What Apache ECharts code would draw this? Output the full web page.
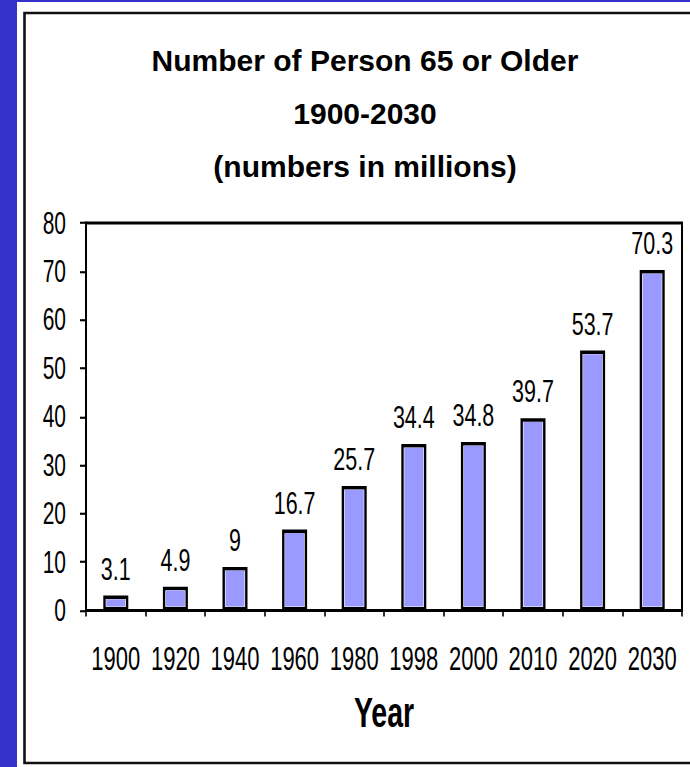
<!DOCTYPE html>
<html>
<head>
<meta charset="utf-8">
<script src="https://cdn.jsdelivr.net/npm/echarts@6/dist/echarts.min.js"></script>
<style>
  html, body { margin: 0; padding: 0; width: 690px; height: 767px; overflow: hidden; }
  #frame { position: absolute; left: 0; top: 0; width: 690px; height: 767px; }
  /* the plot is laid out in a shorter box and stretched vertically for tall, narrow lettering */
  #plot { position: absolute; left: 0; top: 0; width: 690px; height: 511.33px;
          transform: scaleY(1.5); transform-origin: 0 0; }
</style>
</head>
<body>
<div id="frame"></div>
<div id="plot"></div>
<script>
// Population aged 65+ in the United States, in millions
const years = ['1900', '1920', '1940', '1960', '1980', '1998', '2000', '2010', '2020', '2030'];
const persons65 = [3.1, 4.9, 9, 16.7, 25.7, 34.4, 34.8, 39.7, 53.7, 70.3];
const titleLines = ['Number of Person 65 or Older', '1900-2030', '(numbers in millions)'];
const xAxisName = 'Year';
const yMin = 0, yMax = 80, yStep = 10;

const FONT = '"Liberation Sans", Arial, Helvetica, sans-serif';
const BAR_BLUE = '#9999ff';

// Page background, white panel, black frame and the title
const frameChart = echarts.init(document.getElementById('frame'), null, { renderer: 'svg' });
frameChart.setOption({
  animation: false,
  backgroundColor: '#3333cc',
  title: {
    text: titleLines.join('\n'),
    left: 360,
    top: 29,
    textAlign: 'center',
    textStyle: {
      fontFamily: FONT,
      fontWeight: 'bold',
      fontSize: 30,
      lineHeight: 53,
      color: '#000'
    }
  },
  graphic: [
    { type: 'rect', z: -10, shape: { x: 17, y: 2, width: 680, height: 770 }, style: { fill: '#ffffff' } },
    { type: 'rect', z: -9, shape: { x: 24.5, y: 13, width: 700, height: 750 },
      style: { fill: 'none', stroke: '#111', lineWidth: 2.6 } }
  ]
});

// Bar chart
const plotChart = echarts.init(document.getElementById('plot'), null, { renderer: 'svg' });
plotChart.setOption({
  animation: false,
  grid: {
    left: 86, right: 8, top: 148.67, bottom: 104,
    show: true, borderColor: '#000', borderWidth: 2, backgroundColor: 'transparent'
  },
  xAxis: {
    type: 'category',
    data: years,
    boundaryGap: true,
    name: xAxisName,
    nameLocation: 'middle',
    nameGap: 54,
    nameTextStyle: { fontFamily: FONT, fontWeight: 'bold', fontSize: 28.5, lineHeight: 28, color: '#000' },
    axisLine: { lineStyle: { color: '#000', width: 2 } },
    axisTick: { show: true, length: 4, alignWithLabel: false, lineStyle: { color: '#000', width: 1.6 } },
    axisLabel: { interval: 0, margin: 21, fontFamily: FONT, fontSize: 22, lineHeight: 22, color: '#000' },
    splitLine: { show: false }
  },
  yAxis: {
    type: 'value',
    min: yMin, max: yMax, interval: yStep,
    axisLine: { show: true, lineStyle: { color: '#000', width: 2 } },
    axisTick: { show: true, length: 6, lineStyle: { color: '#000', width: 1.4 } },
    axisLabel: { margin: 20, fontFamily: FONT, fontSize: 21, color: '#000' },
    splitLine: { show: false }
  },
  series: [
    {
      // outer bar: white body with black outline, value on top
      type: 'bar',
      data: persons65,
      barWidth: 25,
      itemStyle: { color: '#ffffff', borderColor: '#000', borderWidth: 2.4 },
      label: {
        show: true, position: 'top', distance: 7,
        fontFamily: FONT, fontSize: 21.5, color: '#000'
      },
      z: 3
    },
    {
      // blue fill inset inside each bar, leaving a thin white rim
      type: 'custom',
      data: persons65.map((v, i) => [i, v]),
      encode: { x: 0, y: 1 },
      z: 4,
      silent: true,
      renderItem: function (params, api) {
        const top = api.coord([api.value(0), api.value(1)]);
        const base = api.coord([api.value(0), 0]);
        const innerW = 19;
        const topInset = 2.5, bottomInset = 2.6;
        return {
          type: 'rect',
          shape: {
            x: top[0] - innerW / 2,
            y: top[1] + topInset,
            width: innerW,
            height: Math.max(0, base[1] - top[1] - topInset - bottomInset)
          },
          style: { fill: BAR_BLUE }
        };
      }
    }
  ]
});
</script>
</body>
</html>
